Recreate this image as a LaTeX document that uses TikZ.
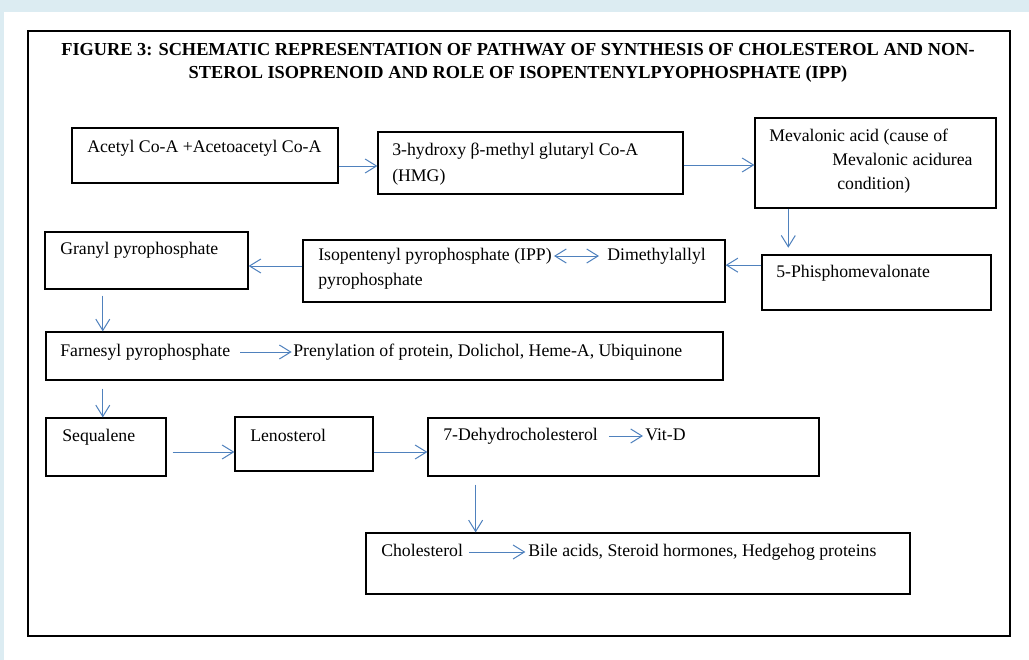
\documentclass[tikz,border=0pt]{standalone}
\usepackage{fontspec}
\setmainfont{Liberation Serif}
\usetikzlibrary{arrows.meta,positioning,fit,calc}
\definecolor{arrowblue}{RGB}{79,129,189}
\definecolor{bandblue}{RGB}{220,236,242}
\tikzset{
  stagebox/.style={
    rectangle, draw=black, line width=0.9pt, inner sep=0pt
  },
  %
  steptext/.style={
    inner sep=0pt, text height=9pt, text depth=3pt, anchor=base west,
    font=\fontsize{13.3}{18}\selectfont
  },
  %
  flow/.style={
    draw=arrowblue, line width=0.75pt, -{Straight Barb[length=8.5pt,width=10.5pt]}
  },
  %
  titletext/.style={
    inner sep=0pt, align=center, anchor=north,
    font=\fontsize{13.75}{17.3}\selectfont\bfseries
  }
}

\begin{document}
\begin{tikzpicture}[x=0.75pt,y=-0.75pt]
\useasboundingbox (0,0) rectangle (1029,660);
\fill[white] (0,0) rectangle (1029,660);
\fill[bandblue] (0,0) rectangle (1029,12);
\fill[bandblue] (0,0) rectangle (4,660);
\draw[line width=1.1pt] (28,31) rectangle (1010,636);

\node(title)[titletext] at (518,43) {FIGURE 3: SCHEMATIC REPRESENTATION OF PATHWAY OF SYNTHESIS OF CHOLESTEROL AND NON-\\
STEROL ISOPRENOID AND ROLE OF ISOPENTENYLPYOPHOSPHATE (IPP)};

% boxes
\node(acetyl)[stagebox, fit={(72,128) (338,183)}] {};
\node(hmg)[stagebox, fit={(378,132) (683,194)}] {};
\node(mev)[stagebox, fit={(755,118) (996,208)}] {};
\node(phos)[stagebox, fit={(762,255) (991,310)}] {};
\node(ipp)[stagebox, fit={(303,240) (725,302)}] {};
\node(granyl)[stagebox, fit={(45,232) (248,289)}] {};
\node(farn)[stagebox, fit={(46,332) (723,380)}] {};
\node(seq)[stagebox, fit={(46,418) (166,476)}] {};
\node(len)[stagebox, fit={(235,417) (373,471)}] {};
\node(dehyd)[stagebox, fit={(428,418) (819,476)}] {};
\node(chol)[stagebox, fit={(366,533) (910,594)}] {};

% texts
\node(acetyltxt)[steptext] at (87,152) {Acetyl Co-A +Acetoacetyl Co-A};
\node(hmgtxt)[steptext] at (392,156) {3-hydroxy β-methyl glutaryl Co-A};
\node(hmgtxtb)[steptext] at (392,181) {(HMG)};
\node(mevtxt)[steptext] at (769,142) {Mevalonic acid (cause of};
\node(mevtxtb)[steptext] at (832,166) {Mevalonic acidurea};
\node(mevtxtc)[steptext] at (837,190) {condition)};
\node(phostxt)[steptext] at (776,277) {5-Phisphomevalonate};
\node(ipptxt)[steptext] at (318,260) {Isopentenyl pyrophosphate (IPP)};
\node(dimtxt)[steptext] at (607,260) {Dimethylallyl};
\node(ipptxtb)[steptext] at (318,285) {pyrophosphate};
\node(granyltxt)[steptext] at (60,254) {Granyl pyrophosphate};
\node(farntxt)[steptext] at (60,356) {Farnesyl pyrophosphate};
\node(prentxt)[steptext] at (293,356) {Prenylation of protein, Dolichol, Heme-A, Ubiquinone};
\node(seqtxt)[steptext] at (62,441) {Sequalene};
\node(lentxt)[steptext] at (250,441) {Lenosterol};
\node(dehydtxt)[steptext] at (443,440) {7-Dehydrocholesterol};
\node(vittxt)[steptext] at (645,440) {Vit-D};
\node(choltxt)[steptext] at (381,556) {Cholesterol};
\node(biletxt)[steptext] at (528,556) {Bile acids, Steroid hormones, Hedgehog proteins};

% connectors
\coordinate(gx) at ($(granyl.south west)!0.286!(granyl.south east)$);
\coordinate(mx) at ($(mev.south west)!0.14!(mev.south east)$);
\coordinate(dx) at ($(dehyd.south west)!0.123!(dehyd.south east)$);
\draw[flow] ([yshift=-2.25pt]hmg.west -| acetyl.east) -- ([yshift=-2.25pt]hmg.west);
\draw[flow] ([yshift=-1.5pt]hmg.east) -- ([yshift=-1.5pt]hmg.east -| mev.west);
\draw[flow, shorten >=5pt] (mx) -- (mx |- phos.north);
\draw[flow] ([yshift=13pt]phos.west) -- ([yshift=13pt]phos.west -| ipp.east);
\draw[flow] ([yshift=3.75pt]ipp.west) -- ([yshift=3.75pt]ipp.west -| granyl.east);
\draw[flow, shorten <=4.5pt] (gx) -- (gx |- farn.north);
\draw[flow, shorten <=6pt] (gx |- farn.south) -- (gx |- seq.north);
\draw[flow, shorten <=4.5pt] ([yshift=-3.75pt]seq.east) -- ([yshift=-3.75pt]seq.east -| len.west);
\draw[flow] ([yshift=-6pt]len.east) -- ([yshift=-6pt]len.east -| dehyd.west);
\draw[flow, shorten <=6pt] (dx) -- (dx |- chol.north);
\draw[flow, {Straight Barb[length=8.5pt,width=10.5pt]}-{Straight Barb[length=8.5pt,width=10.5pt]}, shorten <=1.5pt, shorten >=6pt] (ipptxt.east) -- (dimtxt.west);
\draw[flow, shorten <=7.5pt, shorten >=1pt] (farntxt.east) -- (prentxt.west);
\draw[flow, shorten <=8pt, shorten >=1.5pt] (dehydtxt.east) -- (vittxt.west);
\draw[flow, shorten <=4.5pt, shorten >=2pt] (choltxt.east) -- (biletxt.west);

\end{tikzpicture}
\end{document}
